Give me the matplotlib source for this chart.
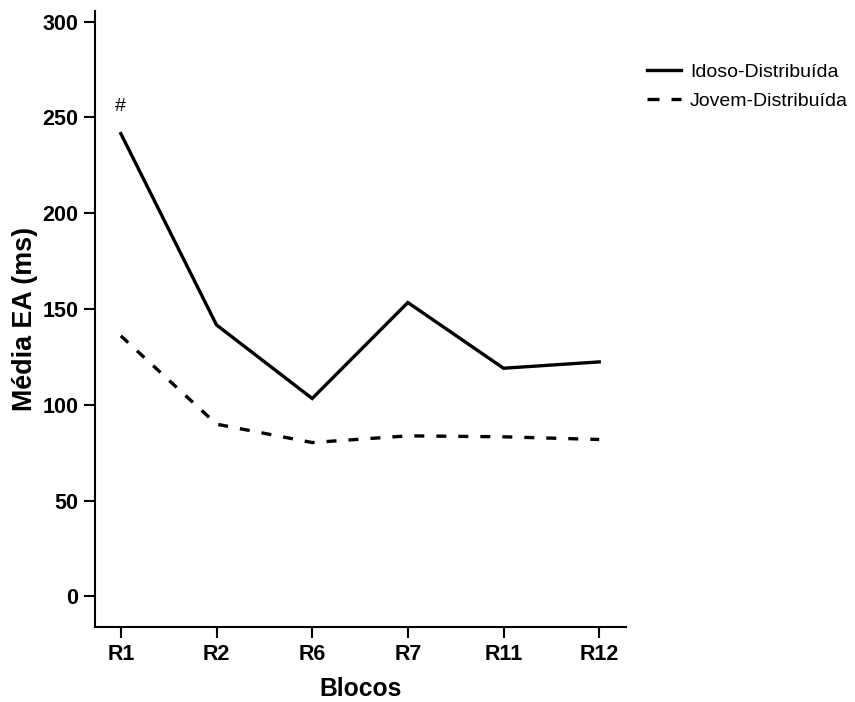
import matplotlib
matplotlib.use("Agg")
import matplotlib.pyplot as plt

plt.rcParams['font.family'] = ['Liberation Sans', 'DejaVu Sans']

blocos = ["R1", "R2", "R6", "R7", "R11", "R12"]
idoso = [241.6, 141.7, 103.3, 153.4, 119.1, 122.4]
jovem = [136.0, 89.9, 80.3, 83.8, 83.3, 81.9]
yticks = [0, 50, 100, 150, 200, 250, 300]

fig = plt.figure(figsize=(8.55, 7.02), dpi=100)
ax = fig.add_axes([95/855, 1-627/702, (626-95)/855, (627-11)/702])

x = list(range(len(blocos)))
ax.plot(x, idoso, color='black', lw=2.4, label='Idoso-Distribuída', solid_joinstyle='miter')
ax.plot(x, jovem, color='black', lw=2.4, ls=(0, (3.0, 3.6)), label='Jovem-Distribuída')
ax.text(0, 256, '#', ha='center', va='center', fontsize=14)

ax.set_xlim(-0.27, 5.28)
ax.set_ylim(-16, 305.6)
ax.set_xticks(x)
ax.set_xticklabels(blocos, fontsize=15.5, fontweight='bold')
ax.set_yticks(yticks)
ax.set_yticklabels([str(v) for v in yticks], fontsize=15.5, fontweight='bold')
ax.tick_params(direction='out', length=8, width=1.5, pad=4)
for s in ['top', 'right']:
    ax.spines[s].set_visible(False)
for s in ['left', 'bottom']:
    ax.spines[s].set_linewidth(1.5)

ax.set_xlabel('Blocos', fontsize=17.7, fontweight='bold', labelpad=9)
ax.set_ylabel('Média EA (ms)', fontsize=19.4, fontweight='bold', labelpad=3)

leg = fig.legend(loc='upper left', bbox_to_anchor=(647/855, 1-63/702), frameon=False,
                 fontsize=14, handlelength=1.75, handletextpad=0.45, labelspacing=0.6,
                 borderaxespad=0, borderpad=0)
leg.get_lines()[1].set_linestyle((0, (3.6, 3.6)))

fig.savefig('out.png', dpi=100)
